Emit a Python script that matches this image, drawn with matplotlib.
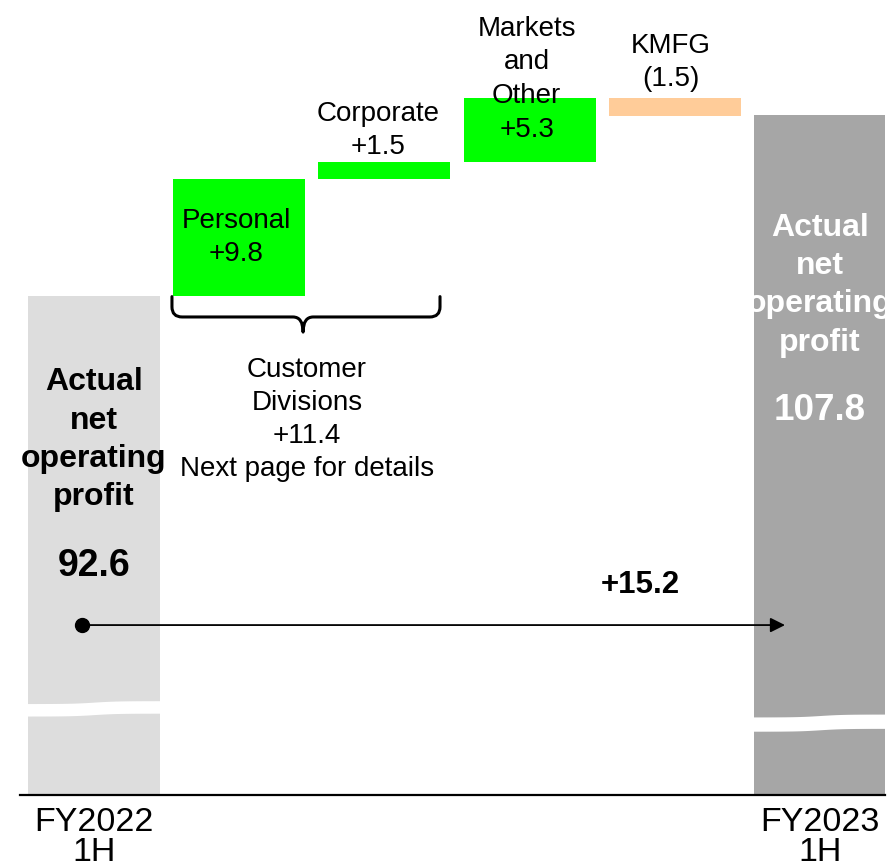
import matplotlib.pyplot as plt
import numpy as np
from matplotlib.path import Path
from matplotlib.patches import PathPatch

plt.rcParams['font.family'] = ['Liberation Sans', 'DejaVu Sans']

# data
labels = ["FY2022\n1H", "Personal", "Corporate", "Markets and Other", "KMFG", "FY2023\n1H"]
start_value = 92.6
changes = [9.8, 1.5, 5.3, -1.5]
end_value = 107.8
change_labels = ["Personal\n+9.8", "Corporate\n+1.5", "Markets\nand\nOther\n+5.3", "KMFG\n(1.5)"]
customer_total = 11.4
total_change = 15.2

fig = plt.figure(figsize=(8.89, 8.62), dpi=100)
ax = fig.add_axes([20 / 889, 66 / 862, 865 / 889, 796 / 862])

x = np.arange(len(labels))
w = 0.909
green = '#00ff00'
orange = '#ffcc99'

# totals (axis is broken, bars clipped at the floor)
ax.bar(x[0], start_value, width=w, color='#dddddd', zorder=1)
ax.bar(x[-1], end_value, width=w, color='#a6a6a6', zorder=1)

# waterfall steps
bottoms = start_value + np.concatenate([[0], np.cumsum(changes)[:-1]])
for i, (b, c) in enumerate(zip(bottoms, changes)):
    lo = b if c > 0 else b + c
    ax.bar(x[i + 1], abs(c), bottom=lo, width=w,
           color=green if c > 0 else orange, zorder=1)

ax.set_xlim(-0.5096, 5.4477)
ax.set_ylim(50.67, 117.56)

# break marks
def wave_break(xc, y_mid, thick):
    xs = np.linspace(xc - w / 2 - 0.02, xc + w / 2 + 0.02, 80)
    t = (xs - xs[0]) / (xs[-1] - xs[0])
    off = 0.12 * np.tanh((t - 0.5) * 6)
    ax.fill_between(xs, y_mid + off - thick / 2, y_mid + off + thick / 2,
                    color='white', lw=0, zorder=2)

wave_break(x[0], 57.95, 1.05)
wave_break(x[-1], 56.75, 1.2)

# bar texts
ax.text(x[0], 80.6, "Actual\nnet\noperating\nprofit", ha='center', va='center',
        fontsize=23, fontweight='bold', linespacing=1.36, zorder=3)
ax.text(x[0], 70.0, f"{start_value}", ha='center', va='center',
        fontsize=27, fontweight='bold', zorder=3)
ax.text(x[-1], 93.6, "Actual\nnet\noperating\nprofit", ha='center', va='center',
        fontsize=23, fontweight='bold', color='white', linespacing=1.36, zorder=3)
ax.text(x[-1], 83.1, f"{end_value}", ha='center', va='center',
        fontsize=26.5, fontweight='bold', color='white', zorder=3)

label_pos = [(0.98, 97.6), (1.956, 106.6), (2.98, 110.9), (3.97, 112.3)]
for (px, py), t in zip(label_pos, change_labels):
    ax.text(px, py, t, ha='center', va='center', fontsize=20, linespacing=1.38, zorder=3)

# brace under the customer divisions
x0, x1, xm = 0.537, 2.383, 1.44
ytop, ybar, ytip = 92.55, 90.84, 89.57
dx, dy = 0.07, 0.85
verts = [(x0, ytop), (x0, ybar + dy), (x0, ybar), (x0 + dx, ybar),
         (xm - dx, ybar), (xm, ybar), (xm, ytip),
         (xm, ybar), (xm + dx, ybar),
         (x1 - dx, ybar), (x1, ybar), (x1, ybar + dy), (x1, ytop)]
codes = [Path.MOVETO, Path.LINETO, Path.CURVE3, Path.CURVE3,
         Path.LINETO, Path.CURVE3, Path.CURVE3,
         Path.CURVE3, Path.CURVE3,
         Path.LINETO, Path.CURVE3, Path.CURVE3, Path.LINETO]
ax.add_patch(PathPatch(Path(verts, codes), fill=False, lw=2.2, color='black',
                       capstyle='round', joinstyle='round', zorder=3))
ax.text(1.467, 82.3, f"Customer\nDivisions\n+{customer_total}\nNext page for details",
        ha='center', va='center', fontsize=20, linespacing=1.36)

# total change arrow
ay = 64.95
ax.plot([-0.083], [ay], marker='o', ms=10, color='black', zorder=4)
ax.annotate('', xy=(4.759, ay), xytext=(-0.083, ay),
            arrowprops=dict(arrowstyle='-|>', color='black', lw=1.3,
                            mutation_scale=22, shrinkA=0, shrinkB=0), zorder=4)
ax.text(3.76, 68.4, f"+{total_change}", ha='center', va='center',
        fontsize=22.5, fontweight='bold')

# axis
for s in ['top', 'left', 'right']:
    ax.spines[s].set_visible(False)
ax.spines['bottom'].set_linewidth(1.6)
ax.spines['bottom'].set_zorder(5)
ax.set_yticks([])
ax.set_xticks([x[0], x[-1]])
ax.set_xticklabels([labels[0], labels[-1]], fontsize=24.5, linespacing=0.95)
ax.tick_params(axis='x', length=0, pad=8)

fig.savefig('out.png', dpi=100)
